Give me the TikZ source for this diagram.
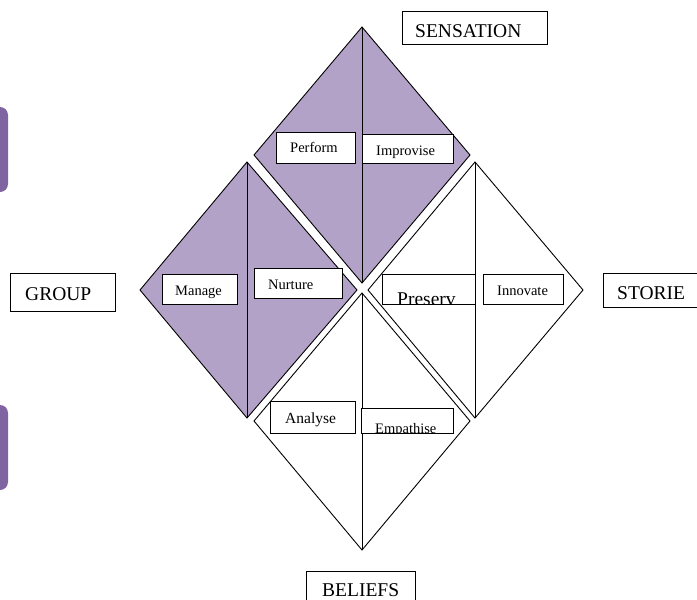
\documentclass[tikz,border=0pt]{standalone}
\usepackage{fontspec}
\setmainfont{Liberation Serif}
\definecolor{lpurple}{HTML}{B3A2C7}
\definecolor{dpurple}{HTML}{8064A2}
\begin{document}
\begin{tikzpicture}[x=1pt,y=-1pt,
  diam/.style={draw=black,line width=0.9pt,line join=miter},
  tbox/.style={draw=black,fill=white,line width=0.9pt},
  big/.style={font=\fontsize{19.5}{21}\selectfont,inner sep=0pt,anchor=base west},
  small/.style={font=\fontsize{14.5}{16}\selectfont,inner sep=0pt,anchor=base west}]
\useasboundingbox (0,0) rectangle (697,600);
% side tabs
\fill[dpurple,rounded corners=8] (-20,107) rectangle (8,192);
\fill[dpurple,rounded corners=8] (-20,405) rectangle (8,490);
% top diamond
\path (362,27) coordinate (Tt) (470,155) coordinate (Tr) (362,283) coordinate (Tb) (254,155) coordinate (Tl);
\draw[diam,fill=lpurple] (Tt)--(Tr)--(Tb)--(Tl)--cycle;
\draw[diam] (Tt)--(Tb);
% left diamond
\path (247,162) coordinate (Lt) (357,290) coordinate (Lr) (247,418) coordinate (Lb) (140,290) coordinate (Ll);
\draw[diam,fill=lpurple] (Lt)--(Lr)--(Lb)--(Ll)--cycle;
\draw[diam] (Lt)--(Lb);
% right diamond
\path (475,162) coordinate (Rt) (583,290) coordinate (Rr) (475,418) coordinate (Rb) (368,290) coordinate (Rl);
\draw[diam,fill=white] (Rt)--(Rr)--(Rb)--(Rl)--cycle;
\draw[diam] (Rt)--(Rb);
% bottom diamond
\path (362,293) coordinate (Bt) (470,421) coordinate (Br) (362,550) coordinate (Bb) (254,421) coordinate (Bl);
\draw[diam,fill=white] (Bt)--(Br)--(Bb)--(Bl)--cycle;
\draw[diam] (Bt)--(Bb);
% outer labels
\draw[tbox] (402,11) rectangle (547,44);
\node[big] (sens) at (415,37) {SENSATION};
\draw[tbox] (10,273) rectangle (115,311);
\node[big] (group) at (25,300) {GROUP};
\draw[tbox] (603,273) rectangle (705,307);
\node[big] (stor) at (617,299) {STORIE};
\draw[tbox] (306,571) rectangle (415,610);
\node[big] (bel) at (322,596) {BELIEFS};
% inner labels
\draw[tbox] (276,132) rectangle (355,163);
\node[small] (perf) at (290,152) {Perform};
\draw[tbox] (362,134) rectangle (453,163);
\node[small] (impr) at (376,155) {Improvise};
\draw[tbox] (162,274) rectangle (237,304);
\node[small] (man) at (175,295) {Manage};
\draw[tbox] (254,268) rectangle (342,298);
\node[small] (nur) at (268,289) {Nurture};
\draw[tbox] (382,274) rectangle (475,304);
\begin{scope}
\clip (382,274) rectangle (475,303);
\node[big] (pres) at (397,305) {Preserv};
\end{scope}
\draw[tbox] (483,274) rectangle (563,304);
\node[small] (inno) at (497,295) {Innovate};
\draw[tbox] (270,401) rectangle (355,433);
\node[small,font=\fontsize{15.5}{17}\selectfont] (ana) at (285,423) {Analyse};
\draw[tbox] (361,408) rectangle (453,433);
\begin{scope}
\clip (361,408) rectangle (453,432.5);
\node[small] (emp) at (375,433) {Empathise};
\end{scope}
\end{tikzpicture}
\end{document}
